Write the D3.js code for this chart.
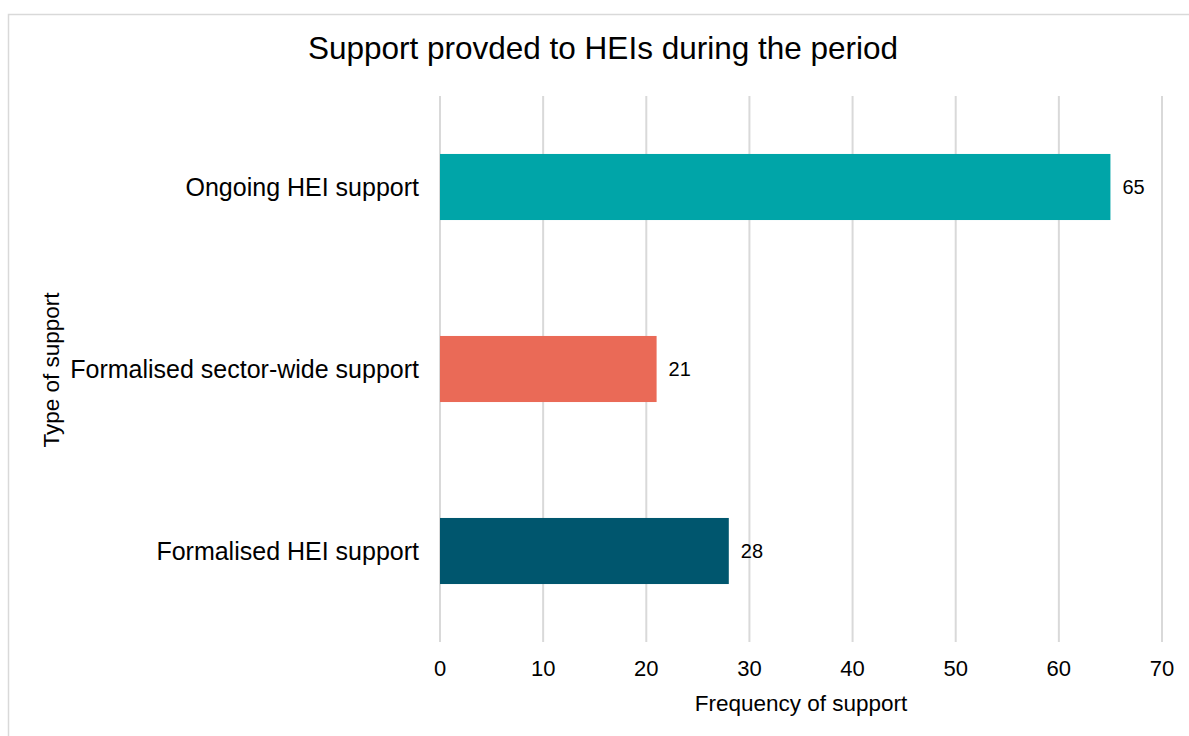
<!DOCTYPE html>
<html>
<head>
<meta charset="utf-8">
<script src="https://cdn.jsdelivr.net/npm/d3@7"></script>
<style>
  body { margin: 0; background: #fff; }
  svg { display: block; font-family: "Liberation Sans", Arial, sans-serif; }
</style>
</head>
<body>
<div id="chart"></div>
<script>
const categories = ["Ongoing HEI support", "Formalised sector-wide support", "Formalised HEI support"];
const values = [65, 21, 28];
const barColors = ["#00A5A8", "#EA6A57", "#00566E"];
const xTicks = [0, 10, 20, 30, 40, 50, 60, 70];

const width = 1189, height = 736;
const plot = { left: 440, right: 1162, top: 96, bottom: 642 };

const svg = d3.select("#chart").append("svg")
    .attr("width", width)
    .attr("height", height);

// ── Chart border ──
svg.append("rect")
    .attr("x", 8.5).attr("y", 14.5)
    .attr("width", 1200).attr("height", 760)
    .attr("fill", "#fff")
    .attr("stroke", "#d9d9d9")
    .attr("stroke-width", 1.5);

const x = d3.scaleLinear().domain([0, 70]).range([plot.left, plot.right]);
const y = d3.scaleBand()
    .domain(categories)
    .range([plot.top, plot.bottom])
    .paddingInner(0.637)
    .paddingOuter(0.3185);

// ── Gridlines ──
svg.append("g")
    .selectAll("line")
    .data(xTicks)
    .join("line")
    .attr("x1", d => x(d)).attr("x2", d => x(d))
    .attr("y1", plot.top).attr("y2", plot.bottom)
    .attr("stroke", "#d9d9d9")
    .attr("stroke-width", 2);

// ── Bars ──
svg.append("g")
    .selectAll("rect")
    .data(categories)
    .join("rect")
    .attr("x", x(0))
    .attr("y", d => y(d))
    .attr("width", (d, i) => x(values[i]) - x(0))
    .attr("height", y.bandwidth())
    .attr("fill", (d, i) => barColors[i]);

// ── Value labels ──
svg.append("g")
    .selectAll("text")
    .data(categories)
    .join("text")
    .attr("x", (d, i) => x(values[i]) + 12)
    .attr("y", d => y(d) + y.bandwidth() / 2)
    .attr("dy", "0.35em")
    .attr("font-size", 20)
    .attr("fill", "#000")
    .text((d, i) => values[i]);

// ── Category labels ──
svg.append("g")
    .selectAll("text")
    .data(categories)
    .join("text")
    .attr("x", plot.left - 21)
    .attr("y", d => y(d) + y.bandwidth() / 2)
    .attr("dy", "0.35em")
    .attr("text-anchor", "end")
    .attr("font-size", 25)
    .attr("fill", "#000")
    .text(d => d);

// ── X tick labels ──
svg.append("g")
    .selectAll("text")
    .data(xTicks)
    .join("text")
    .attr("x", d => x(d))
    .attr("y", 668)
    .attr("dy", "0.35em")
    .attr("text-anchor", "middle")
    .attr("font-size", 22)
    .attr("fill", "#000")
    .text(d => d);

// ── Axis titles ──
svg.append("text")
    .attr("x", 801).attr("y", 703)
    .attr("dy", "0.35em")
    .attr("text-anchor", "middle")
    .attr("font-size", 22.5)
    .text("Frequency of support");

svg.append("text")
    .attr("transform", "translate(51,370) rotate(-90)")
    .attr("dy", "0.35em")
    .attr("text-anchor", "middle")
    .attr("font-size", 22.5)
    .text("Type of support");

// ── Title ──
svg.append("text")
    .attr("x", 603).attr("y", 48)
    .attr("dy", "0.35em")
    .attr("text-anchor", "middle")
    .attr("font-size", 31.5)
    .text("Support provded to HEIs during the period");
</script>
</body>
</html>
